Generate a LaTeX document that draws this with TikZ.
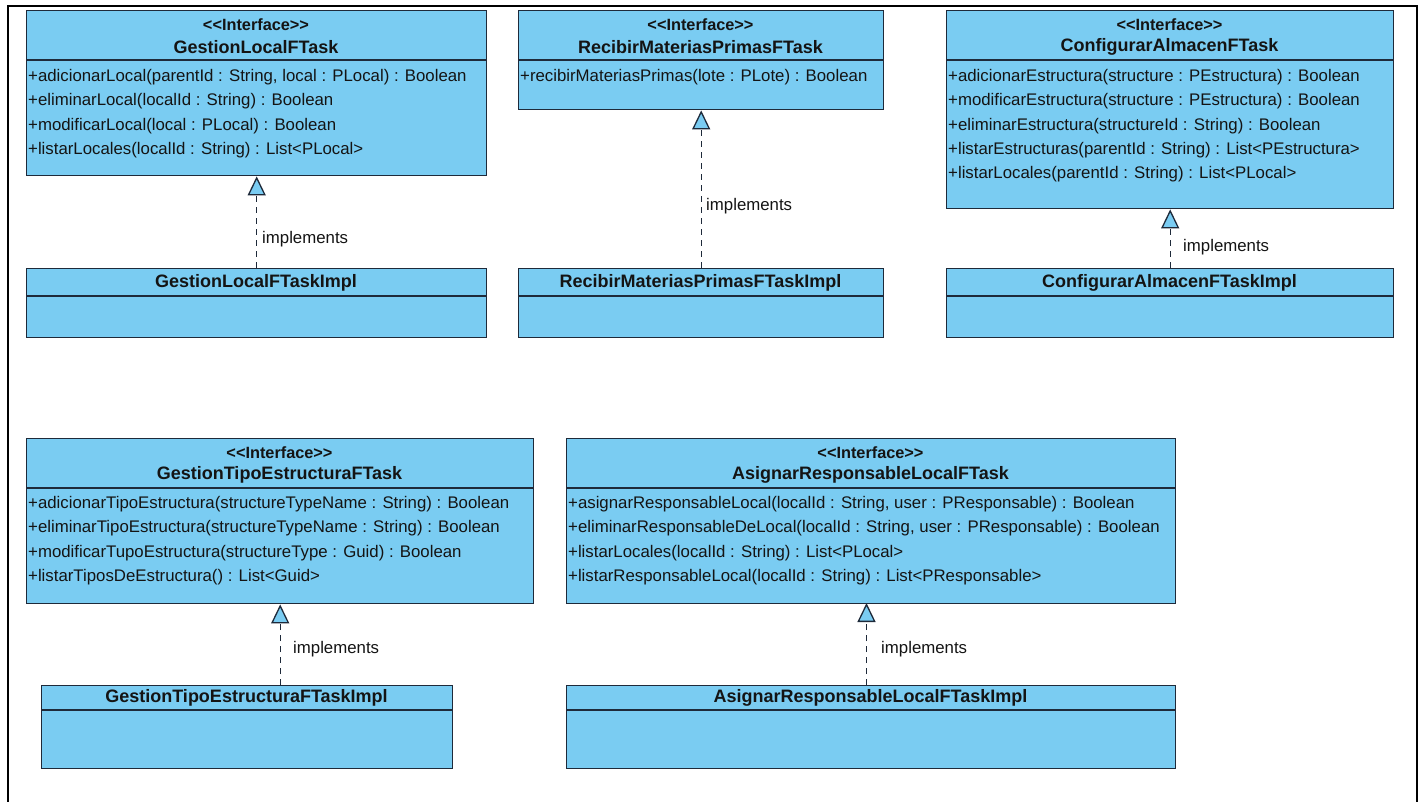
\documentclass[tikz,border=0pt]{standalone}
\usepackage{fontspec}
\newfontfamily\umlfont{Liberation Sans}
\usetikzlibrary{arrows.meta,calc}
\definecolor{umlfill}{RGB}{122,204,242}
\definecolor{umlline}{RGB}{30,42,58}
\definecolor{umltext}{RGB}{20,20,20}

\begin{document}
\begin{tikzpicture}[x=1pt,y=-1pt,
  classbox/.style={draw=umlline, fill=umlfill, line width=1.4pt, rectangle, inner sep=0pt, anchor=north west},
  sepline/.style={draw=umlline, line width=1.2pt},
  member/.style={anchor=west, inner sep=0pt, text=umltext, font=\umlfont\fontsize{16.8}{19}\selectfont, text height=12.5pt, text depth=3.5pt},
  stereo/.style={inner sep=0pt, text=umltext, font=\umlfont\bfseries\fontsize{16.3}{19}\selectfont},
  cname/.style={inner sep=0pt, text=umltext, font=\umlfont\bfseries\fontsize{18}{20}\selectfont},
  realize/.style={draw=umlline, line width=1.3pt, dash pattern=on 6pt off 5pt,
    -{Triangle[length=19pt,width=18pt,fill=umlfill,line width=1.3pt]}},
  lbl/.style={anchor=west, inner sep=0pt, text=umltext, font=\umlfont\fontsize{16.8}{19}\selectfont}]

\useasboundingbox (0,0) rectangle (1422,802);
\clip (0,0) rectangle (1422,802);
\fill[white] (0,0) rectangle (1422,802);

% outer frame
\draw[line width=2.4pt, black] (8,812) -- (8,6) -- (1417,6) -- (1417,812);

% ---------- GestionLocalFTask ----------
\node[classbox, minimum width=460pt, minimum height=165pt] (gl) at (26,10) {};
\draw[sepline] (gl.west |- 0,60) -- (gl.east |- 0,60);
\node[stereo] (gl-st) at (256,25) {<<Interface>>};
\node[cname] (gl-nm) at (256,47) {GestionLocalFTask};
\node[member] (gl-m1) at (28,77) {+adicionarLocal(parentId : String, local : PLocal) : Boolean};
\node[member] (gl-m2) at (28,101) {+eliminarLocal(localId : String) : Boolean};
\node[member] (gl-m3) at (28,126) {+modificarLocal(local : PLocal) : Boolean};
\node[member] (gl-m4) at (28,150) {+listarLocales(localId : String) : List<PLocal>};

\node[classbox, minimum width=460pt, minimum height=69pt] (gli) at (26,268) {};
\draw[sepline] (gli.west |- 0,296) -- (gli.east |- 0,296);
\node[cname] (gli-nm) at (256,283) {GestionLocalFTaskImpl};

\draw[realize] (gli.north) -- (gl.south);
\node[lbl] (gl-lb) at (262,239) {implements};

% ---------- RecibirMateriasPrimasFTask ----------
\node[classbox, minimum width=365pt, minimum height=99pt] (rm) at (518,10) {};
\draw[sepline] (rm.west |- 0,60) -- (rm.east |- 0,60);
\node[stereo] (rm-st) at (700.5,25) {<<Interface>>};
\node[cname] (rm-nm) at (700.5,47) {RecibirMateriasPrimasFTask};
\node[member] (rm-m1) at (520,77) {+recibirMateriasPrimas(lote : PLote) : Boolean};

\node[classbox, minimum width=365pt, minimum height=69pt] (rmi) at (518,268) {};
\draw[sepline] (rmi.west |- 0,296) -- (rmi.east |- 0,296);
\node[cname] (rmi-nm) at (700.5,283) {RecibirMateriasPrimasFTaskImpl};

\draw[realize] (rmi.north) -- (rm.south);
\node[lbl] (rm-lb) at (706,206) {implements};

% ---------- ConfigurarAlmacenFTask ----------
\node[classbox, minimum width=447pt, minimum height=198pt] (ca) at (946,10) {};
\draw[sepline] (ca.west |- 0,60) -- (ca.east |- 0,60);
\node[stereo] (ca-st) at (1169.5,25) {<<Interface>>};
\node[cname] (ca-nm) at (1169.5,47) {ConfigurarAlmacenFTask};
\node[member] (ca-m1) at (948,77) {+adicionarEstructura(structure : PEstructura) : Boolean};
\node[member] (ca-m2) at (948,101) {+modificarEstructura(structure : PEstructura) : Boolean};
\node[member] (ca-m3) at (948,126) {+eliminarEstructura(structureId : String) : Boolean};
\node[member] (ca-m4) at (948,150) {+listarEstructuras(parentId : String) : List<PEstructura>};
\node[member] (ca-m5) at (948,174) {+listarLocales(parentId : String) : List<PLocal>};

\node[classbox, minimum width=447pt, minimum height=69pt] (cai) at (946,268) {};
\draw[sepline] (cai.west |- 0,296) -- (cai.east |- 0,296);
\node[cname] (cai-nm) at (1169.5,283) {ConfigurarAlmacenFTaskImpl};

\draw[realize] (cai.north) -- (ca.south);
\node[lbl] (ca-lb) at (1183,247) {implements};

% ---------- GestionTipoEstructuraFTask ----------
\node[classbox, minimum width=507pt, minimum height=165pt] (gt) at (26,438) {};
\draw[sepline] (gt.west |- 0,488) -- (gt.east |- 0,488);
\node[stereo] (gt-st) at (279.5,453) {<<Interface>>};
\node[cname] (gt-nm) at (279.5,475) {GestionTipoEstructuraFTask};
\node[member] (gt-m1) at (28,504) {+adicionarTipoEstructura(structureTypeName : String) : Boolean};
\node[member] (gt-m2) at (28,528) {+eliminarTipoEstructura(structureTypeName : String) : Boolean};
\node[member] (gt-m3) at (28,553) {+modificarTupoEstructura(structureType : Guid) : Boolean};
\node[member] (gt-m4) at (28,577) {+listarTiposDeEstructura() : List<Guid>};

\node[classbox, minimum width=411pt, minimum height=83pt] (gti) at (41,685) {};
\draw[sepline] (gti.west |- 0,710) -- (gti.east |- 0,710);
\node[cname] (gti-nm) at (246.5,698) {GestionTipoEstructuraFTaskImpl};

\draw[realize] (gti.north -| gt.south) -- (gt.south);
\node[lbl] (gt-lb) at (293,649) {implements};

% ---------- AsignarResponsableLocalFTask ----------
\node[classbox, minimum width=609pt, minimum height=165pt] (ar) at (566,438) {};
\draw[sepline] (ar.west |- 0,488) -- (ar.east |- 0,488);
\node[stereo] (ar-st) at (870.5,453) {<<Interface>>};
\node[cname] (ar-nm) at (870.5,475) {AsignarResponsableLocalFTask};
\node[member] (ar-m1) at (568,504) {+asignarResponsableLocal(localId : String, user : PResponsable) : Boolean};
\node[member] (ar-m2) at (568,528) {+eliminarResponsableDeLocal(localId : String, user : PResponsable) : Boolean};
\node[member] (ar-m3) at (568,553) {+listarLocales(localId : String) : List<PLocal>};
\node[member] (ar-m4) at (568,577) {+listarResponsableLocal(localId : String) : List<PResponsable>};

\node[classbox, minimum width=609pt, minimum height=83pt] (ari) at (566,685) {};
\draw[sepline] (ari.west |- 0,710) -- (ari.east |- 0,710);
\node[cname] (ari-nm) at (870.5,698) {AsignarResponsableLocalFTaskImpl};

\coordinate (ar-foot) at (866.5,603);
\draw[realize] (ari.north -| ar-foot) -- (ar-foot);
\node[lbl] (ar-lb) at (881,649) {implements};

\end{tikzpicture}
\end{document}
